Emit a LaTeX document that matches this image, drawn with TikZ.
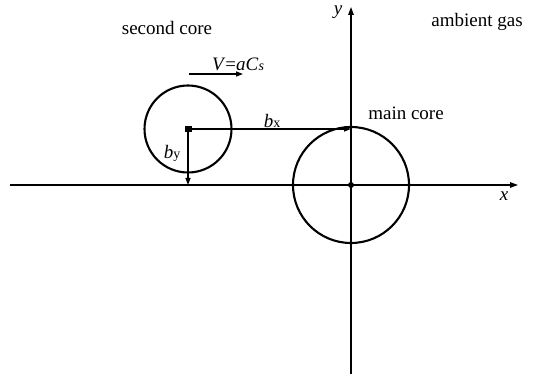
\documentclass[tikz,border=0pt]{standalone}
\usepackage{fontspec}
\setmainfont{Liberation Serif}
\usetikzlibrary{arrows.meta, positioning}

\newcommand{\subsz}[1]{{\fontsize{14}{16}\selectfont #1}}

\begin{document}
\begin{tikzpicture}[
    x=1pt, y=-1pt,
    core/.style={circle, draw=black, line width=2.1pt, inner sep=0pt},
    label/.style={font=\fontsize{19}{22}\selectfont, inner sep=0pt},
    axis/.style={line width=1.3pt, -{Triangle[length=8pt, width=5.5pt]}},
    arrow/.style={line width=1.3pt, -{Triangle[length=7pt, width=5pt]}},
    dot/.style={circle, fill=black, inner sep=0pt, minimum size=6pt}
]
\useasboundingbox (0,0) rectangle (541,379);

% Coordinates
\coordinate (xstart) at (10,185);
\coordinate (xend) at (518,185);
\coordinate (ystart) at (351,374);
\coordinate (yend) at (351,7);
\coordinate (bxend) at (351,129);
\coordinate (byend) at (188,185);
\coordinate (vstart) at (189,74);
\coordinate (vend) at (243,74);

% Nodes
\node (main) [core, minimum size=116pt] at (351,185) {};
\node (second) [core, minimum size=87pt] at (188,129) {};
\node (maindot) [dot] at (main.center) {};
\node (seconddot) [dot, rectangle, minimum width=7pt, minimum height=5.5pt] at (second.center) {};
\node (secondlbl) [label] at (167,28) {second core};
\node (ambient) [label] at (477,22) {ambient gas};
\node (mainlbl) [label] at (406,113) {main core};
\node (ylbl) [label] at (338,12) {\textit{y}};
\node (xlbl) [label] at (504,196) {\textit{x}};
\node (bx) [label] at (272,121) {\textit{b}\subsz{x}};
\node (by) [label] at (172,153) {\textit{b}\subsz{y}};
\node (vel) [label] at (238,64) {\textit{V}=\textit{aC}\subsz{\textit{s}}};

% Arrows
\draw [axis] (xstart) -- (xend);
\draw [axis] (ystart) -- (yend);
\draw [arrow] (second.center) -- (bxend);
\draw [arrow] (second.center) -- (byend);
\draw [arrow] (vstart) -- (vend);

\end{tikzpicture}
\end{document}
